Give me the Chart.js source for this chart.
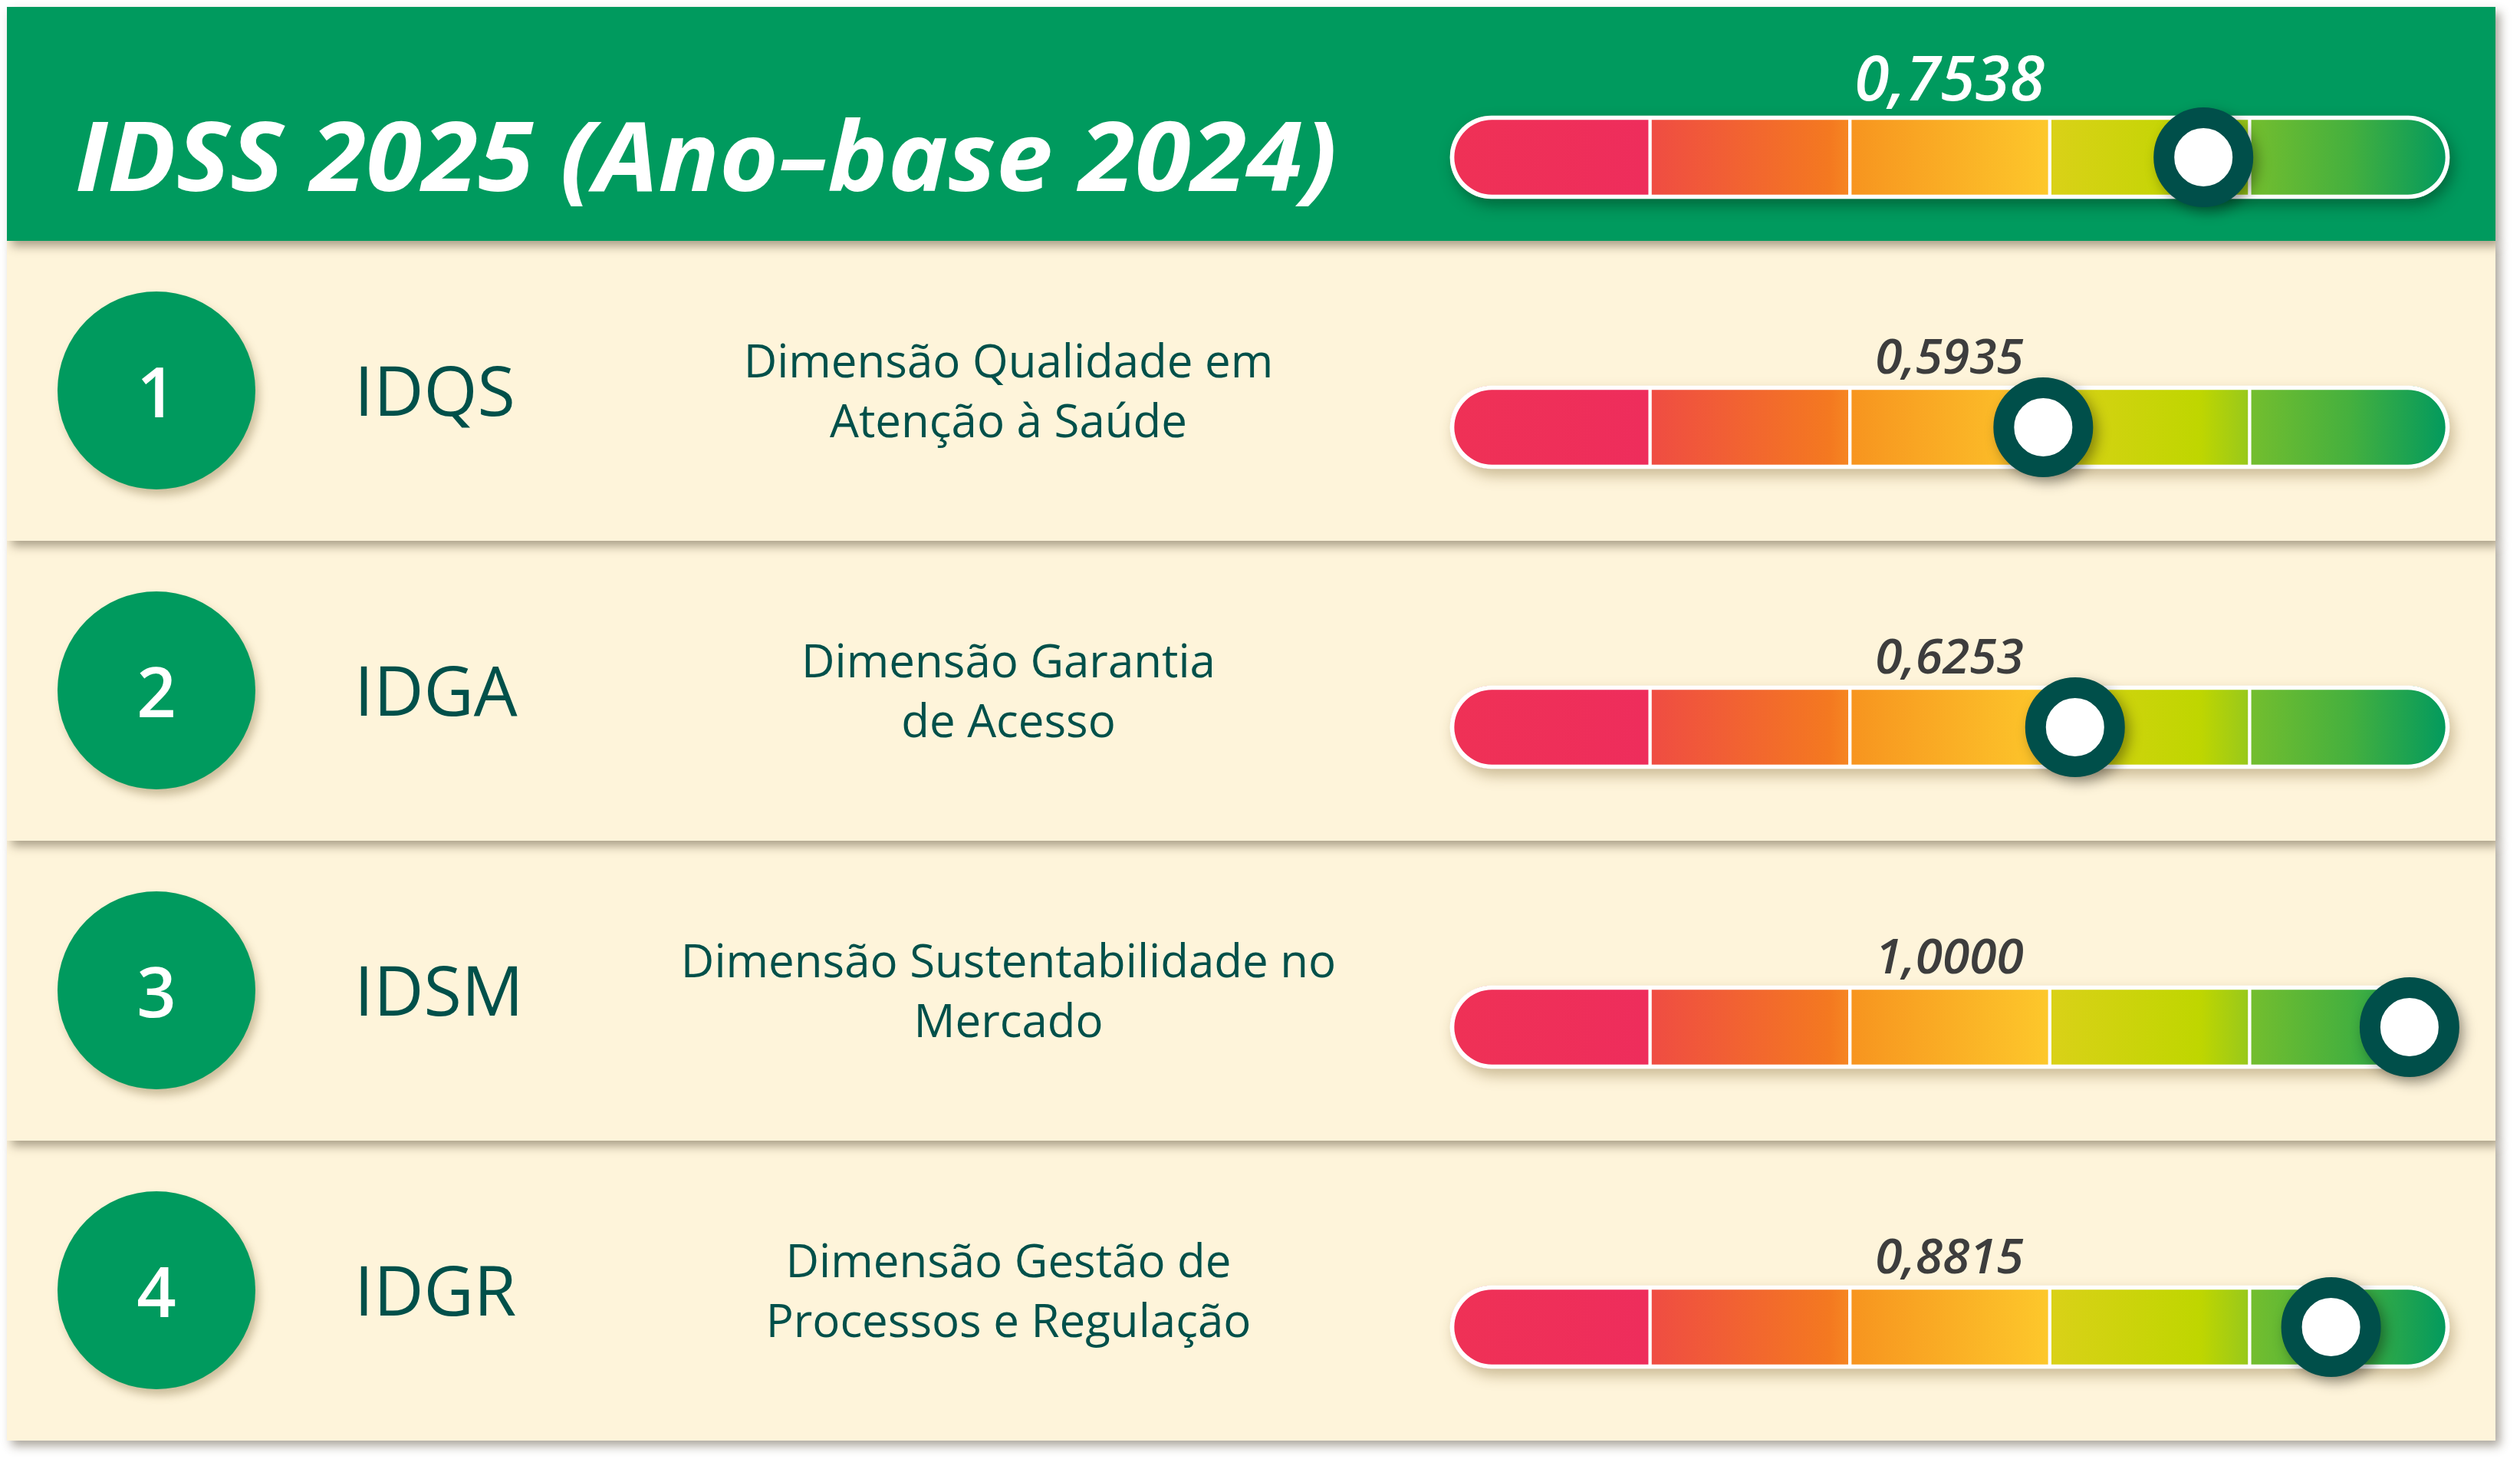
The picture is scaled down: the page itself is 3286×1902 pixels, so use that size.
<!DOCTYPE html>
<html lang="pt-BR">
<head>
<meta charset="utf-8">
<title>IDSS 2025 (Ano-base 2024)</title>
<script src="https://cdn.jsdelivr.net/npm/chart.js@4.4.1/dist/chart.umd.min.js"></script>
<style>
    html, body { margin: 0; padding: 0; background: #ffffff; }
    body {
        width: 3286px; height: 1902px; position: relative; overflow: hidden;
        font-family: 'Open Sans', 'Noto Sans', sans-serif;
    }
    .row {
        position: absolute; left: 9px; width: 3245px;
        box-shadow: 6px 7px 12px rgba(70, 60, 40, 0.45);
    }
    .header { top: 9px; height: 305px; background: #009a5e; z-index: 10; }
    .dim { height: 391px; background: #fef4da; }
    .title {
        position: absolute; left: 89px; top: 128px;
        color: #ffffff; font-style: italic; font-weight: 700;
        font-size: 126px; line-height: 126px; white-space: nowrap;
        transform: scaleX(1.05); transform-origin: left center;
    }
    .badge {
        position: absolute; left: 66px; top: 66px; width: 258px; height: 258px;
        border-radius: 50%; background: #009a5e; color: #ffffff;
        font-size: 90px; line-height: 258px; text-align: center; font-weight: 600;
        box-shadow: 5px 8px 12px rgba(110, 90, 40, 0.35);
    }
    .code {
        position: absolute; left: 453px; top: 148px;
        font-size: 90px; line-height: 90px; color: #00504a; white-space: nowrap;
    }
    .desc {
        position: absolute; left: 806px; top: 116px; width: 1000px;
        text-align: center; font-size: 60px; line-height: 78px; color: #00504a;
    }
    .value {
        position: absolute; left: 2133px; width: 800px; text-align: center;
        font-style: italic; white-space: nowrap;
    }
    .header .value { top: 49px; font-size: 82px; line-height: 82px; color: #ffffff; font-weight: 600; }
    .dim .value { top: 117px; font-size: 64px; line-height: 64px; color: #3d3d3d; font-weight: 600; }
    .gauge { position: absolute; left: 1802px; width: 1463px; height: 180px; }
    .header .gauge { top: 106px; }
    .dim .gauge { top: 153px; }
</style>
</head>
<body>
<div id="board"></div>

<script>
// ==================== DATA ====================

const titleText = 'IDSS 2025 (Ano–base 2024)';
const overallValue = 0.7538;

const dimensionNumbers = ['1', '2', '3', '4'];
const dimensionCodes = ['IDQS', 'IDGA', 'IDSM', 'IDGR'];
const dimensionNames = [
    ['Dimensão Qualidade em', 'Atenção à Saúde'],
    ['Dimensão Garantia', 'de Acesso'],
    ['Dimensão Sustentabilidade no', 'Mercado'],
    ['Dimensão Gestão de', 'Processos e Regulação']
];
const dimensionValues = [0.5935, 0.6253, 1.0000, 0.8815];

// score bands of the gauge (0 - 1, five equal bands)
const bandEdges = [0, 0.2, 0.4, 0.6, 0.8, 1];
const bandColors = [
    [[0, '#ef3156'], [1, '#ee2d5c']],
    [[0, '#ef4c43'], [0.9, '#f47920'], [1, '#f68722']],
    [[0, '#f7941f'], [1, '#fdc82b']],
    [[0, '#dad118'], [0.75, '#bfd600'], [1, '#97c81c']],
    [[0, '#74be2e'], [0.5, '#45b03e'], [1, '#00995f']]
];

// the knob stays inside the rounded end of the track
const KNOB_INSET = 0.04;

// ==================== LAYOUT ====================

const BAR_THICKNESS = 108;
const BAR_RADIUS = 54;

document.addEventListener('DOMContentLoaded', function() {
    buildBoard();
});

function formatValue(v) {
    return v.toFixed(4).replace('.', ',');
}

function buildBoard() {
    const board = document.getElementById('board');

    // header row
    const header = document.createElement('div');
    header.className = 'row header';
    header.innerHTML =
        '<div class="title">' + escapeHtml(titleText) + '</div>' +
        '<div class="value">' + formatValue(overallValue) + '</div>' +
        '<div class="gauge"><canvas width="1463" height="180"></canvas></div>';
    board.appendChild(header);
    createGauge(header.querySelector('canvas'), 'IDSS', overallValue, 'rgba(0, 60, 30, 0.5)');

    // one row per dimension
    dimensionCodes.forEach((code, i) => {
        const row = document.createElement('div');
        row.className = 'row dim';
        row.style.top = (314 + i * 391) + 'px';
        row.style.zIndex = 9 - i;
        row.innerHTML =
            '<div class="badge">' + dimensionNumbers[i] + '</div>' +
            '<div class="code">' + code + '</div>' +
            '<div class="desc">' + dimensionNames[i].map(escapeHtml).join('<br>') + '</div>' +
            '<div class="value">' + formatValue(dimensionValues[i]) + '</div>' +
            '<div class="gauge"><canvas width="1463" height="180"></canvas></div>';
        board.appendChild(row);
        createGauge(row.querySelector('canvas'), code, dimensionValues[i], 'rgba(120, 95, 40, 0.38)');
    });
}

// draws a soft shadow behind the datasets that ask for one
const softShadow = {
    id: 'softShadow',
    beforeDatasetDraw(chart, args) {
        const s = chart.data.datasets[args.index].shadow;
        if (!s) return;
        const c = chart.ctx;
        c.save();
        c.shadowColor = s.color;
        c.shadowBlur = s.blur;
        c.shadowOffsetX = s.x;
        c.shadowOffsetY = s.y;
    },
    afterDatasetDraw(chart, args) {
        if (chart.data.datasets[args.index].shadow) chart.ctx.restore();
    }
};

function bandGradient(band) {
    return function(context) {
        const chart = context.chart;
        const stops = bandColors[band];
        if (!chart.chartArea) return stops[0][1];
        const xs = chart.scales.x;
        const g = chart.ctx.createLinearGradient(
            xs.getPixelForValue(bandEdges[band]), 0,
            xs.getPixelForValue(bandEdges[band + 1]), 0);
        stops.forEach(s => g.addColorStop(s[0], s[1]));
        return g;
    };
}

function createGauge(canvas, label, value, shadowColor) {
    const last = bandColors.length - 1;
    const round = { topLeft: BAR_RADIUS, topRight: BAR_RADIUS, bottomLeft: BAR_RADIUS, bottomRight: BAR_RADIUS };
    const knobX = Math.min(value, 1 - KNOB_INSET);

    const datasets = [];

    // knob
    datasets.push({
        type: 'scatter',
        data: [{ x: knobX, y: 0 }],
        pointRadius: 51.5,
        pointBorderWidth: 27,
        pointBackgroundColor: '#ffffff',
        pointBorderColor: '#004f4a',
        clip: false,
        order: 0
    });
    // knob shadow
    datasets.push({
        type: 'scatter',
        data: [{ x: knobX, y: 0 }],
        pointRadius: 64,
        pointBorderWidth: 0,
        pointBackgroundColor: '#004f4a',
        shadow: { color: 'rgba(0, 0, 0, 0.4)', blur: 18, x: 6, y: 7 },
        clip: false,
        order: 1
    });
    // white outline of the track
    datasets.push({
        data: [[bandEdges[0], bandEdges[last + 1]]],
        backgroundColor: 'rgba(0, 0, 0, 0)',
        borderColor: '#ffffff',
        borderWidth: 5,
        borderRadius: round,
        borderSkipped: false,
        barThickness: BAR_THICKNESS,
        stack: 'gauge',
        clip: false,
        order: 2
    });
    // coloured bands
    bandColors.forEach((stops, b) => {
        datasets.push({
            data: [[bandEdges[b], bandEdges[b + 1]]],
            backgroundColor: bandGradient(b),
            borderColor: '#ffffff',
            borderWidth: { left: b > 0 ? 2.5 : 0, right: b < last ? 2.5 : 0, top: 0, bottom: 0 },
            borderRadius: {
                topLeft: b === 0 ? BAR_RADIUS : 0, bottomLeft: b === 0 ? BAR_RADIUS : 0,
                topRight: b === last ? BAR_RADIUS : 0, bottomRight: b === last ? BAR_RADIUS : 0
            },
            borderSkipped: false,
            barThickness: BAR_THICKNESS,
            stack: 'gauge',
            clip: false,
            order: 3
        });
    });
    // track shadow
    datasets.push({
        data: [[bandEdges[0], bandEdges[last + 1]]],
        backgroundColor: '#ffffff',
        borderRadius: round,
        borderSkipped: false,
        barThickness: BAR_THICKNESS,
        stack: 'gauge',
        shadow: { color: shadowColor, blur: 18, x: 5, y: 9 },
        clip: false,
        order: 4
    });

    return new Chart(canvas.getContext('2d'), {
        type: 'bar',
        data: { labels: [label], datasets: datasets },
        plugins: [softShadow],
        options: {
            indexAxis: 'y',
            responsive: false,
            animation: false,
            events: [],
            layout: { autoPadding: false, padding: { left: 80, right: 80, top: 0, bottom: 0 } },
            scales: {
                x: { type: 'linear', min: 0, max: 1, stacked: false, display: false },
                y: { type: 'category', display: false }
            },
            plugins: {
                legend: { display: false },
                tooltip: { enabled: false },
                title: { display: false }
            }
        }
    });
}

// Utility function
function escapeHtml(text) {
    if (!text) return '';
    const div = document.createElement('div');
    div.textContent = text;
    return div.innerHTML;
}
</script>
</body>
</html>
